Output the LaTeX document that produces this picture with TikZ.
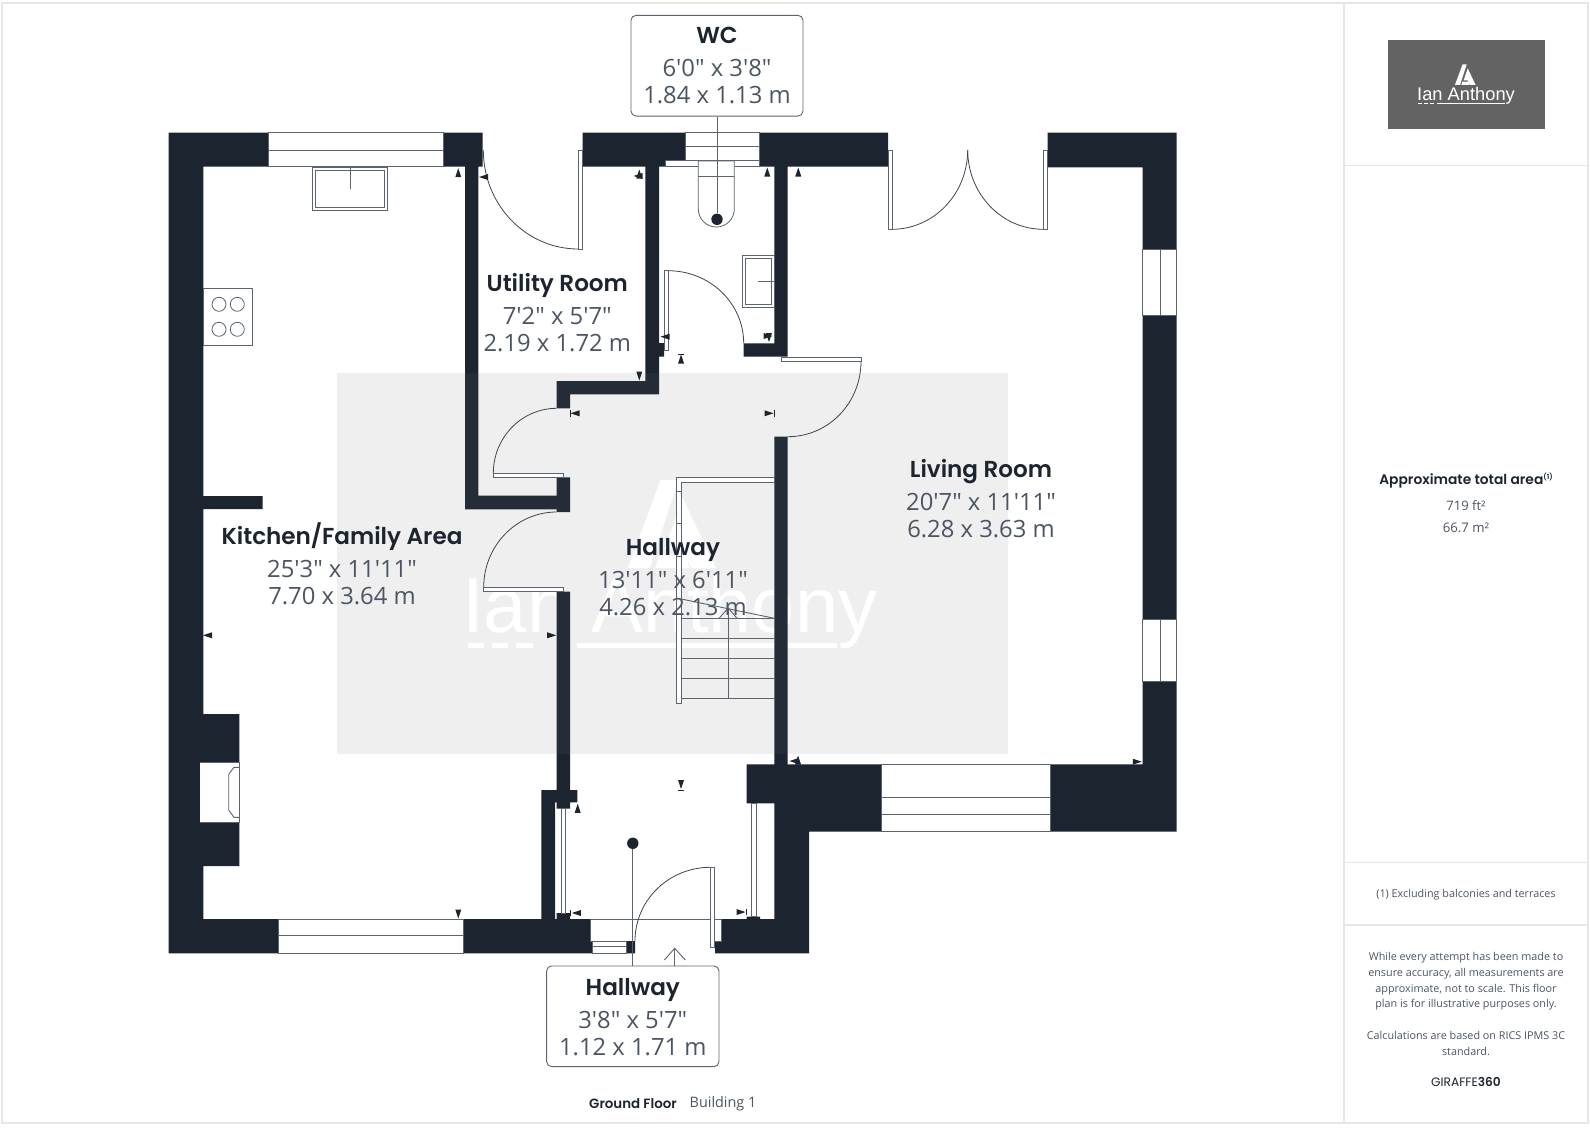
\documentclass[tikz,border=0pt]{standalone}
\usepackage{fontspec}
\setmainfont{Open Sans}
\newfontfamily\bodyf{Open Sans}
\newfontfamily\ttl{Poppins}[BoldFont={Poppins SemiBold}]
\newfontfamily\arialf{Liberation Sans}
\definecolor{wallc}{HTML}{1C2430}
\definecolor{linec}{HTML}{5B6470}
\definecolor{bodyc}{HTML}{4B5563}
\definecolor{panelc}{HTML}{E6E6E6}
\definecolor{wmc}{HTML}{EFEFEF}
\definecolor{logoc}{HTML}{636363}
\tikzset{
  wall/.style={fill=wallc},
  glaze/.style={fill=white,draw=linec,line width=0.9pt},
  fixture/.style={fill=white,draw=linec,line width=0.8pt},
  thinline/.style={draw=linec,line width=0.9pt},
  swing/.style={draw=wallc!85!white,line width=0.8pt},
  titletext/.style={anchor=base,inner sep=0pt,text=wallc,font=\ttl\bfseries\fontsize{23.1}{24}\selectfont},
  bodytext/.style={anchor=base,inner sep=0pt,text=bodyc,font=\bodyf\fontsize{23.8}{25}\selectfont},
  labelbox/.style={draw=linec,line width=0.9pt,fill=white,rounded corners=5pt,inner sep=0pt},
  paneltext/.style={anchor=base,inner sep=0pt,text=bodyc,font=\bodyf\fontsize{10.8}{12}\selectfont},
  dotnode/.style={circle,fill=wallc,inner sep=0pt,minimum size=11.4pt},
}
\newcommand{\roomlabel}[6]{%
  \node[titletext] (#1t) at (#2,#3) {#4};
  \node[bodytext] (#1a) at (#2,#3+33) {#5};
  \node[bodytext] (#1b) at (#2,#3+60) {#6};
}
\newcommand{\tup}[2]{\fill[wallc] (#1-3,#2+4.5)--(#1+3,#2+4.5)--(#1,#2-4.5)--cycle;}
\newcommand{\tdn}[2]{\fill[wallc] (#1-3,#2-4.5)--(#1+3,#2-4.5)--(#1,#2+4.5)--cycle;}
\newcommand{\tlf}[2]{\fill[wallc] (#1+4.5,#2-3)--(#1+4.5,#2+3)--(#1-4.5,#2)--cycle;}
\newcommand{\trt}[2]{\fill[wallc] (#1-4.5,#2-3)--(#1-4.5,#2+3)--(#1+4.5,#2)--cycle;}
\newcommand{\logomark}[3]{%
  \fill[white,shift={(#1,#2)},x=#3pt,y=-#3pt] (0.37,0)--(0.57,0)--(0.25,1)--(0,1)--cycle;
  \fill[white,shift={(#1,#2)},x=#3pt,y=-#3pt] (0.62,0.2)--(1,1)--(0.72,1)--(0.62,0.78)--(0.42,0.78)--(0.5,0.55)--cycle;
  \fill[white,shift={(#1,#2)},x=#3pt,y=-#3pt] (0.36,0.85)--(0.66,0.85)--(0.7,1)--(0.31,1)--cycle;
}
\begin{document}
\begin{tikzpicture}[x=1pt,y=-1pt]
\useasboundingbox (0,0) rectangle (1590,1127);
\fill[white] (0,0) rectangle (1590,1127);
% frame
\draw[panelc,line width=1.3pt] (2,3) rectangle (1588,1123);
\draw[panelc,line width=1.3pt] (1344,3)--(1344,1123);
\draw[panelc,line width=1.3pt] (1344,165.5)--(1588,165.5);
\draw[panelc,line width=1.3pt] (1344,862.7)--(1588,862.7);
\draw[panelc,line width=1.3pt] (1344,925)--(1588,925);
% watermark
\fill[wmc] (337,372.7) rectangle (1008.3,754);
\node[anchor=base west,inner sep=0pt,text=white,font=\arialf\fontsize{77.8}{80}\selectfont] (wmtext) at (462,632) {Ian Anthony};
\logomark{628}{480}{88}
\fill[white] (468,642.5) rectangle (484,648);
\fill[white] (492,642.5) rectangle (508,648);
\fill[white] (516,642.5) rectangle (533,648);
\fill[white] (577,642.5) rectangle (837,648);
% walls
\fill[wall]
 (168.7,132.7) rectangle (203.3,953.3)
 (168.7,132.7) rectangle (482.7,166.7)
 (465,166.7) rectangle (478.3,509.3)
 (465,495.7) rectangle (570,509.3)
 (556.7,477.3) rectangle (570,512)
 (582.7,132.7) rectangle (888,166.7)
 (645.3,166.7) rectangle (659,394.3)
 (556.7,381) rectangle (659,394.3)
 (556.7,381) rectangle (570,408.3)
 (659,343) rectangle (664,356.7)
 (774.3,166.7) rectangle (787.7,356.7)
 (743.7,343.3) rectangle (787.7,356.7)
 (1047.7,132.7) rectangle (1176.7,167.3)
 (1142.7,132.7) rectangle (1176.7,831.7)
 (774.3,436.7) rectangle (787.7,764.3)
 (746.7,764.3) rectangle (1176.7,803.3)
 (774.3,764.3) rectangle (1176.7,831.7)
 (774.3,803) rectangle (809,953.3)
 (721.7,919) rectangle (809,953.3)
 (715,941) rectangle (730,953.3)
 (168.7,919) rectangle (590,953.3)
 (590,941) rectangle (592.7,953.3)
 (626,941) rectangle (635,953.3)
 (541.3,790) rectangle (555,919)
 (541.3,790) rectangle (577.3,802.3)
 (556.7,591.7) rectangle (570,808.7)
 (556.7,913) rectangle (570,919)
 (746.7,916.7) rectangle (760,919)
 (203,496) rectangle (262.6,509)
 (203,714) rectangle (239.3,866);
% lighter veil of the watermark over the walls
\fill[white,opacity=0.04] (337,372.7) rectangle (1008.3,754);
% fireplace
\fill[white] (199.7,762) rectangle (239,822.7);
\draw[thinline] (199.7,762)--(239,762)--(239,822.7)--(199.7,822.7);
\draw[thinline] (239,767.3)--(234,767.3)--(228.7,774.3)--(228.7,810)--(234,817.3)--(239,817.3);
% windows
\draw[glaze] (268,132.7) rectangle (443.7,166.7);
\draw[thinline] (268,150)--(443.7,150);
\draw[glaze] (685,132.7) rectangle (759.3,160.3);
\draw[thinline] (685,146.7)--(759.3,146.7);
\draw[glaze] (665,160.3) rectangle (759.3,166.7);
\draw[glaze] (1142.7,249.3) rectangle (1176.7,315.3);
\draw[thinline] (1160,249.3)--(1160,315.3);
\draw[glaze] (1142.7,619) rectangle (1176.7,681);
\draw[thinline] (1160,619)--(1160,681);
\draw[glaze] (881.3,764.3) rectangle (1050,831.7);
\draw[thinline] (881.3,797.3)--(1050,797.3);
\draw[thinline] (881.3,814.7)--(1050,814.7);
\draw[glaze] (278,919) rectangle (463.3,953.3);
\draw[thinline] (278,935.7)--(463.3,935.7);
\draw[glaze] (592.7,941) rectangle (626,953.3);
\draw[thinline] (592.7,946.7)--(626,946.7);
\draw[glaze] (561,808.7) rectangle (565.7,913);
\draw[glaze] (751.7,803.3) rectangle (756,916.7);
\fill[white] (590,919.3) rectangle (635,941);
\fill[white] (715,919.3) rectangle (721.7,941);
\draw[thinline] (590,919) rectangle (721.7,919);
\draw[thinline] (590,919)--(590,941)--(592.7,941);
\draw[thinline] (721.7,919)--(721.7,941)--(715,941);
% fixtures
\draw[fixture] (312.7,167) rectangle (387,210.7);
\draw[fixture] (315.7,170.3) rectangle (384.3,207.7);
\draw[thinline] (350,167.3)--(350,189);
\draw[fixture] (203.7,288.3) rectangle (252.7,345);
\foreach \cx in {219,237.3}\foreach \cy in {304.3,329.3}{\draw[fixture] (\cx,\cy) circle[radius=7pt];}
\draw[fixture] (742.3,255.7) rectangle (774,307);
\draw[fixture] (745.3,258.7) rectangle (771.3,304);
\draw[thinline] (758.3,281.7)--(774,281.7);
% toilet
\draw[fixture] (698.3,161)--(734.3,161)--(734.3,209) .. controls (734.3,219) and (726.3,227) .. (716.3,227) .. controls (706.3,227) and (698.3,219) .. (698.3,209) --cycle;
\draw[thinline] (698.3,176)--(734.3,176);
% door leaves
\draw[fixture] (578.3,150) rectangle (582.7,249);
\draw[fixture] (664,270.7) rectangle (668.3,350);
\draw[fixture] (781,357.3) rectangle (861,361.3);
\draw[fixture] (493.3,473.3) rectangle (563.3,477.3);
\draw[fixture] (483.7,587.3) rectangle (563.3,591);
\draw[fixture] (888,150) rectangle (892.3,229.3);
\draw[fixture] (1043.3,150) rectangle (1047.7,229.3);
\draw[fixture] (710.3,867.3) rectangle (714.7,947.3);
% door swings
\draw[swing] (578.3,249) .. controls (525.8,249) and (483.3,204.7) .. (483.3,150);
\draw[swing] (668,270.7) .. controls (709.8,270.7) and (743.7,303.2) .. (743.7,343.3);
\draw[swing] (861,361.3) .. controls (861,402.9) and (828.6,436.7) .. (787.7,436.7);
\draw[swing] (493.3,473.3) .. controls (493.3,437.4) and (521.7,408.3) .. (556.7,408.3);
\draw[swing] (483.7,587.3) .. controls (483.7,545.7) and (516.4,512) .. (556.7,512);
\draw[swing] (892,229.3) .. controls (933.8,229.3) and (967.7,193.8) .. (967.7,150);
\draw[swing] (1043.3,229.3) .. controls (1001.5,229.3) and (967.7,193.8) .. (967.7,150);
\draw[swing] (710.3,867.3) .. controls (668.7,867.3) and (635,900.3) .. (635,941);
% stairs
\draw[fixture] (676.7,477.3)--(774.3,477.3)--(774.3,482.3)--(681.3,482.3)--(681.3,491)--(676.7,491)--cycle;
\draw[fixture] (676.7,491) rectangle (681.3,703.3);
\draw[thinline] (676.7,523)--(681.3,523);
\draw[thinline] (676.7,556)--(681.3,556);
\foreach \ty in {618.3,638.3,658.3,678.3,698.3}{\draw[thinline] (681.3,\ty)--(774.3,\ty);}
\coordinate (stairtip) at (728.3,608);
\coordinate (stairfoot) at (728.3,698.3);
\draw[thinline] (stairfoot)--(stairtip);
\draw[thinline] (718.7,618.7)--(stairtip)--(737.3,618.7);
\draw[thinline] (681.3,599)--(774.3,618.3);
% dimension marks
\tup{458.3}{172.7}
\tlf{483.5}{177}
\tup{639.3}{174}
\tlf{638}{176}
\tup{767.3}{172}
\tup{798.3}{172}
\tlf{665}{336.7}
\tdn{769}{337.7}
\trt{768}{336}
\tup{681}{359}
\draw[wallc,line width=0.8pt] (678,354.5)--(684,354.5);
\tdn{639.3}{376}
\tlf{575}{413.3}
\draw[wallc,line width=0.8pt] (570,410)--(570,416.5);
\trt{769}{413.3}
\draw[wallc,line width=0.8pt] (774,410)--(774,416.5);
\trt{551.7}{635.3}
\tlf{207.5}{635.3}
\tup{577.7}{808.3}
\tlf{576.3}{913}
\draw[wallc,line width=0.8pt] (570.5,910)--(570.5,916);
\trt{741}{912}
\draw[wallc,line width=0.8pt] (746.7,909)--(746.7,915);
\tdn{681}{784.5}
\draw[wallc,line width=0.8pt] (678,790)--(684,790);
\tlf{794}{761}
\tup{798}{760}
\tdn{458.3}{914}
\trt{1137.3}{761.7}
% labels
\roomlabel{util}{557.3}{291}{Utility Room}{7'2" x 5'7"}{2.19 x 1.72 m}
\roomlabel{kitchen}{342}{544}{Kitchen/Family Area}{25'3" x 11'11"}{7.70 x 3.64 m}
\roomlabel{living}{981}{477}{Living Room}{20'7" x 11'11"}{6.28 x 3.63 m}
\roomlabel{hall}{673}{555}{Hallway}{13'11" x 6'11"}{4.26 x 2.13 m}
% WC label
\node[labelbox,minimum width=172pt,minimum height=100.7pt] (wcbox) at (717,65.7) {};
\node[dotnode] (wcdot) at (717,219.3) {};
\draw[thinline] (wcbox.south) -- (wcdot.north);
\roomlabel{wc}{717}{43.3}{WC}{6'0" x 3'8"}{1.84 x 1.13 m}
% Hallway entrance label
\node[labelbox,minimum width=172.3pt,minimum height=100.7pt] (entrybox) at (632.8,1016.3) {};
\node[dotnode] (entrydot) at (632.8,843.3) {};
\draw[thinline] (entrybox.north) -- (entrydot.south);
\coordinate (entrytip) at (674.7,948.3);
\draw[thinline] (entrybox.north -| entrytip) -- (entrytip);
\draw[thinline] (664.3,960)--(entrytip)--(685.3,960);
\roomlabel{entry}{632.8}{995}{Hallway}{3'8" x 5'7"}{1.12 x 1.71 m}
% footer
\node[anchor=base,inner sep=0pt,text=wallc,font=\ttl\bfseries\fontsize{13.4}{14}\selectfont] (floorname) at (633,1108) {Ground Floor};
\node[anchor=base,inner sep=0pt,text=bodyc,font=\bodyf\fontsize{14.4}{15}\selectfont] (buildingname) at (723,1107.5) {Building 1};
% side panel
\fill[logoc] (1387.7,40) rectangle (1545,129);
\logomark{1455}{64.3}{20.5}
\node[anchor=base west,inner sep=0pt,text=white,font=\arialf\fontsize{18.3}{20}\selectfont] (logotext) at (1417,100) {Ian Anthony};
\fill[white] (1418,103) rectangle (1422,104.2);
\fill[white] (1424,103) rectangle (1428,104.2);
\fill[white] (1430,103) rectangle (1434,104.2);
\fill[white] (1437,103) rectangle (1505,104.2);
\node[anchor=base,inner sep=0pt,text=wallc,font=\ttl\bfseries\fontsize{13.8}{14}\selectfont] (areatitle) at (1466,484) {Approximate total area\raisebox{5pt}{\fontsize{7}{7}\selectfont (1)}};
\node[anchor=base,inner sep=0pt,text=bodyc,font=\bodyf\fontsize{13}{14}\selectfont] (areaft) at (1466,510) {719 ft²};
\node[anchor=base,inner sep=0pt,text=bodyc,font=\bodyf\fontsize{13.2}{14}\selectfont] (aream) at (1466,532.5) {66.7 m²};
\node[paneltext] (note) at (1466,897) {(1) Excluding balconies and terraces};
\node[paneltext] (d1) at (1466,960) {While every attempt has been made to};
\node[paneltext] (d2) at (1466,976) {ensure accuracy, all measurements are};
\node[paneltext] (d3) at (1466,992) {approximate, not to scale. This floor};
\node[paneltext] (d4) at (1466,1007.5) {plan is for illustrative purposes only.};
\node[paneltext] (d5) at (1466,1039.5) {Calculations are based on RICS IPMS 3C};
\node[paneltext] (d6) at (1466,1055.5) {standard.};
\node[anchor=base,inner sep=0pt,text=wallc,font=\ttl\fontsize{12.2}{13}\selectfont] (giraffe) at (1466,1086.5) {GIRAFFE{\bfseries 360}};
\end{tikzpicture}
\end{document}
